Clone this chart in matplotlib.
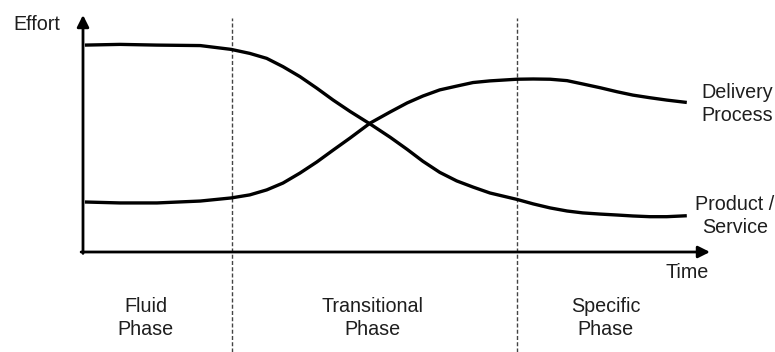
import matplotlib
matplotlib.use("Agg")
import matplotlib.pyplot as plt
from matplotlib import transforms

plt.rcParams["font.family"] = ["Liberation Sans", "DejaVu Sans"]
plt.rcParams["lines.scale_dashes"] = False

# time (0-100) and effort (0-100)
time = [0.3, 5.9, 11.8, 18.7, 23.6, 26.6, 29.3, 31.9, 34.6, 37.3, 39.9, 42.6,
        45.8, 49.0, 51.7, 54.2, 56.9, 59.6, 62.2, 64.9, 69.2, 71.8, 74.5, 77.2,
        79.7, 82.5, 85.2, 87.7, 90.4, 93.1, 96.3]
product_service = [87.3, 87.6, 87.3, 87.1, 85.5, 83.8, 81.7, 78.2, 74.0, 69.1,
                   64.1, 59.3, 54.0, 48.4, 43.3, 38.3, 33.6, 30.0, 27.4, 24.9,
                   22.2, 20.3, 18.6, 17.3, 16.5, 16.0, 15.6, 15.2, 14.9, 14.9, 15.3]
delivery_process = [21.1, 20.7, 20.7, 21.5, 22.8, 24.1, 26.2, 29.1, 33.3, 38.0,
                    43.0, 48.1, 54.4, 59.1, 62.9, 65.8, 68.4, 70.0, 71.5, 72.2,
                    72.9, 73.0, 72.9, 72.3, 70.9, 69.3, 67.6, 66.2, 65.1, 64.1, 63.1]

phase_bounds = [23.8, 69.2]
phase_labels = ["Fluid\nPhase", "Transitional\nPhase", "Specific\nPhase"]
phase_centers = [10, 46.2, 83.4]

text_color = "#1e1e1e"
fs = 14.2

fig = plt.figure(figsize=(7.75, 3.52), dpi=100)
ax = fig.add_axes([83 / 775, 100 / 352, 627 / 775, 237 / 352])
ax.set_xlim(0, 100)
ax.set_ylim(0, 100)
ax.axis("off")

# curves
for series in (product_service, delivery_process):
    ax.plot(time, series, color="black", lw=2.4, solid_capstyle="butt",
            solid_joinstyle="round", clip_on=False)

# axes with arrow heads
arrow = dict(arrowstyle="-|>,head_length=0.5,head_width=0.25", color="black",
             lw=2.0, shrinkA=0, shrinkB=0, mutation_scale=14)
ax.annotate("", xy=(1, 0), xytext=(-0.003, 0), xycoords="axes fraction",
            textcoords="axes fraction", arrowprops=arrow)
ax.annotate("", xy=(0, 1), xytext=(0, -0.006), xycoords="axes fraction",
            textcoords="axes fraction", arrowprops=arrow)

# phase separators
trans = transforms.blended_transform_factory(ax.transData, fig.transFigure)
for xb in phase_bounds:
    ax.plot([xb, xb], [0, 1 - 18 / 352], transform=trans, color="#444444",
            lw=1.0, dashes=(2.9, 1.6), clip_on=False, zorder=0)

# labels
fig.text(13 / 775, 1 - 24 / 352, "Effort", ha="left", va="center",
         fontsize=fs, color=text_color)
fig.text(687 / 775, 1 - 273 / 352, "Time", ha="center", va="center",
         fontsize=fs, color=text_color)
for xc, lab in zip(phase_centers, phase_labels):
    ax.text(xc, -28, lab, ha="center", va="center", fontsize=fs,
            color=text_color, linespacing=1.25, clip_on=False)

fig.text(737 / 775, 1 - 104 / 352, "Delivery\nProcess", ha="center", va="center",
         fontsize=fs, color=text_color, linespacing=1.25)
fig.text(735 / 775, 1 - 216 / 352, "Product /\nService", ha="center", va="center",
         fontsize=fs, color=text_color, linespacing=1.25)

fig.savefig("out.png", dpi=100)
plt.close("all")
